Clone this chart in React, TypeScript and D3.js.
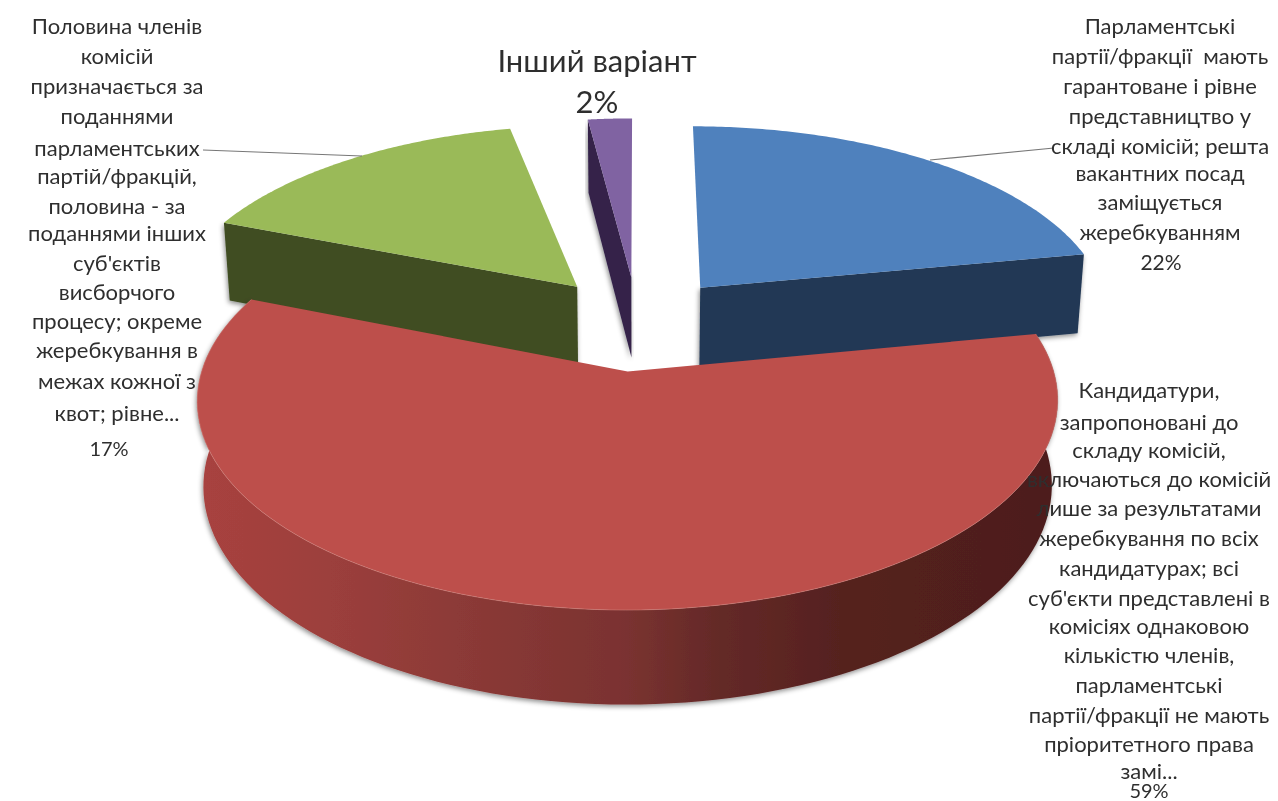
import React from "react";
import * as d3 from "d3";

const shares = [22, 59, 17, 2];
const topColors = ["#4f81bd", "#bd4f4c", "#9aba58", "#8064a2"];
const sideColors = ["#203754", "", "#3f4d22", "#34234a"];
const percentLabels = ["22%", "59%", "17%", "2%"];

const labelBlue = ["Парламентські", "партії/фракції  мають", "гарантоване і рівне", "представництво у", "складі комісій; решта", "вакантних посад", "заміщується", "жеребкуванням"];
const labelRed = ["Кандидатури,", "запропоновані до", "складу комісій,", "включаються до комісій", "лише за результатами", "жеребкування по всіх", "кандидатурах; всі", "суб'єкти представлені в", "комісіях однаковою", "кількістю членів,", "парламентські", "партії/фракції не мають", "пріоритетного права", "замі..."];
const labelGreen = ["Половина членів", "комісій", "призначається за", "поданнями", "парламентських", "партій/фракцій,", "половина - за", "поданнями інших", "суб'єктів", "висборчого", "процесу; окреме", "жеребкування в", "межах кожної з", "квот; рівне..."];
const labelPurple = "Інший варіант";

const CX = 637.5, CY = 323, RX = 412, RY = 192, P = 0.135, EXPLODE = 0.245, DEPTH = 82, Q = 0.014;
const GREEN_END_TRIM = (4.8 * Math.PI) / 180;
const FONT = "Lato, 'Open Sans', sans-serif";
const TEXT = "#2f2f2f";

const xScale = d3.scaleLinear().domain([0, 1]).range([CX, CX + RX]);
const yScale = d3.scaleLinear().domain([0, 1]).range([CY, CY + RY]);

type Pt = [number, number];
function project(theta: number, r: number, mid: number, bottom: boolean): Pt {
  const X = r * Math.sin(theta) + EXPLODE * Math.sin(mid);
  const Z = -r * Math.cos(theta) - EXPLODE * Math.cos(mid);
  const s = 1 / (1 - P * Z);
  const k = bottom ? 1 - Q : 1;
  const x = xScale(X * s * k);
  const y = yScale(Z * s * k) + (bottom ? DEPTH * s : 0);
  return [x, y];
}

const pieGen = d3.pie<number>().sort(null).startAngle(0).endAngle(2 * Math.PI);
const arcs = pieGen(shares);
const line = d3.line<Pt>();

function rim(a0: number, a1: number, mid: number, bottom: boolean): Pt[] {
  const t = d3.scaleLinear().domain([0, 120]).range([a0, a1]);
  return d3.range(121).map((i) => project(t(i), 1, mid, bottom));
}

function Lines({ lines, x, ys, size = 22 }: { lines: string[]; x: number; ys: number[]; size?: number }) {
  return (
    <>
      {lines.map((l, i) => (
        <text key={i} x={x} y={ys[i]} textAnchor="middle" dominantBaseline="central" fontSize={size} style={{ whiteSpace: "pre" }}>
          {l}
        </text>
      ))}
    </>
  );
}

const yGreen = [25, 55, 85, 115, 147, 175, 205, 232, 262, 291, 320, 349, 380, 412];
const yBlue = [25, 55, 85, 115, 145, 172, 201, 231];
const yRed = [389, 421, 449, 478, 507, 537, 567, 597, 625, 654, 684, 714, 743, 770];

export default function App() {
  const order = [2, 3, 0, 1];
  const redArc = arcs[1];
  const redMid = (redArc.startAngle + redArc.endAngle) / 2;
  const redL = project(2 * Math.PI * 0.75, 1, redMid, false)[0];
  const redR = project(2 * Math.PI * 0.25, 1, redMid, false)[0];
  return (
    <svg width={1278} height={801} style={{ position: "absolute", left: 0, top: 0, background: "#fff" }}>
      <defs>
        <linearGradient id="redWall" gradientUnits="userSpaceOnUse" x1={redL} x2={redR} y1={0} y2={0}>
          <stop offset="0" stopColor="#a8423f" />
          <stop offset="0.15" stopColor="#9c3f3c" />
          <stop offset="0.3" stopColor="#8c3a37" />
          <stop offset="0.5" stopColor="#7a3230" />
          <stop offset="0.6" stopColor="#652a28" />
          <stop offset="0.75" stopColor="#55211f" />
          <stop offset="1" stopColor="#4d1e1c" />
        </linearGradient>
        <filter id="sh" x="-5%" y="-5%" width="110%" height="115%">
          <feDropShadow dx={-1} dy={2} stdDeviation={2.5} floodColor="#000" floodOpacity={0.45} />
        </filter>
        <filter id="soft"><feGaussianBlur stdDeviation={0.45} /></filter>
      </defs>
      <g filter="url(#soft)">
        {order.map((idx) => {
          const a = arcs[idx];
          const mid = (a.startAngle + a.endAngle) / 2;
          const apexT = project(0, 0, mid, false);
          const apexB = project(0, 0, mid, true);
          const endAngle = idx === 2 ? a.endAngle - GREEN_END_TRIM : a.endAngle;
          const top = rim(a.startAngle, endAngle, mid, false);
          let wall: Pt[] | null = null;
          let fill = sideColors[idx];
          if (idx === 0) {
            wall = [apexT, top[top.length - 1], project(a.endAngle, 1, mid, true), apexB];
          } else if (idx === 1) {
            wall = [...top, ...rim(a.startAngle, a.endAngle, mid, true).reverse()];
            fill = "url(#redWall)";
          } else {
            wall = [apexT, top[0], project(a.startAngle, 1, mid, true), apexB];
          }
          return (
            <g key={idx}>
              <path d={line(wall)! + "Z"} fill={fill} filter="url(#sh)" />
              <path d={line([apexT, ...top])! + "Z"} fill={topColors[idx]} />
              {idx === 1 && <path d={line(top)!} fill="none" stroke="#cf8078" strokeOpacity={0.55} strokeWidth={1} />}
            </g>
          );
        })}
        <path d="M203,150L362,156" stroke="#777" strokeWidth={1.2} fill="none" />
        <path d="M930,160L1054,148" stroke="#777" strokeWidth={1.2} fill="none" />
      </g>
      <g fontFamily={FONT} fill={TEXT} filter="url(#soft)">
        <Lines lines={labelGreen} x={117} ys={yGreen} />
        <Lines lines={[percentLabels[2]]} x={109} ys={[448]} size={20} />
        <Lines lines={labelBlue} x={1160} ys={yBlue} />
        <Lines lines={[percentLabels[0]]} x={1161} ys={[261]} size={21} />
        <Lines lines={labelRed} x={1149} ys={yRed} />
        <Lines lines={[percentLabels[1]]} x={1149} ys={[790]} size={20} />
        <Lines lines={[labelPurple]} x={597} ys={[60]} size={31} />
        <Lines lines={[percentLabels[3]]} x={597} ys={[101]} size={31} />
      </g>
    </svg>
  );
}
